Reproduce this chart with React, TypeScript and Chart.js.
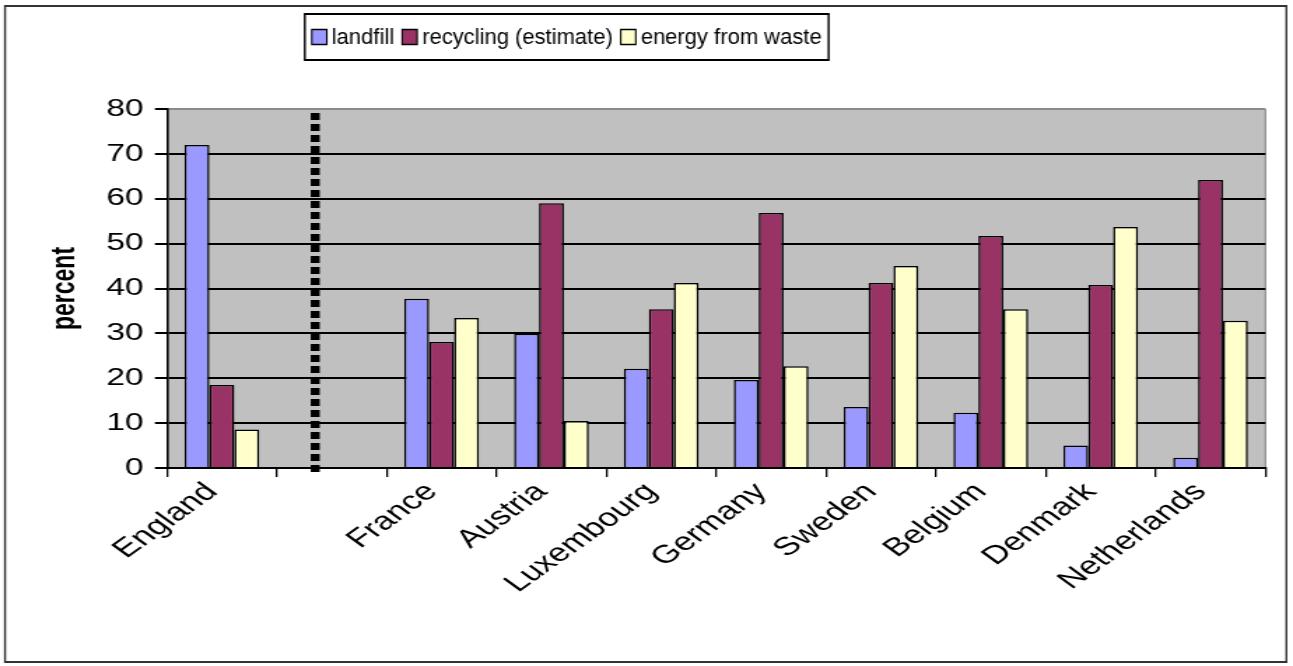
import React, { useEffect, useRef } from "react";
import { Chart, registerables } from "chart.js";

Chart.register(...registerables);

const categories = ["England", "", "France", "Austria", "Luxembourg", "Germany", "Sweden", "Belgium", "Denmark", "Netherlands"];
const landfill = [72, null, 37.7, 29.9, 22.1, 19.6, 13.6, 12.3, 5.0, 2.3];
const recycling = [18.5, null, 28.1, 59.0, 35.4, 56.8, 41.2, 51.7, 40.8, 64.2];
const energy = [8.6, null, 33.4, 10.5, 41.2, 22.7, 45.0, 35.4, 53.7, 32.8];
const seriesNames = ["landfill", "recycling (estimate)", "energy from waste"];
const seriesColors = ["#9999ff", "#993366", "#ffffcc"];
const separatorAt = 0.85; // category index position of the dotted divider

const FONT = '"Liberation Sans", Arial, sans-serif';
const DISPLAY_W = 1293;
const DISPLAY_H = 666;
const STRETCH = 1.4; // the reference is horizontally stretched
const CANVAS_W = Math.round(DISPLAY_W / STRETCH);

const decorPlugin = {
  id: "decor",
  beforeDraw(chart: any) {
    const { ctx, chartArea, width, height } = chart;
    ctx.save();
    ctx.fillStyle = "#ffffff";
    ctx.fillRect(0, 0, width, height);
    ctx.fillStyle = "#c0c0c0";
    ctx.fillRect(chartArea.left, chartArea.top, chartArea.right - chartArea.left, chartArea.bottom - chartArea.top);
    ctx.strokeStyle = "#8a8a8a";
    ctx.lineWidth = 1.2;
    ctx.beginPath();
    ctx.moveTo(chartArea.right, chartArea.top);
    ctx.lineTo(chartArea.right, chartArea.bottom);
    ctx.stroke();
    ctx.restore();
  },
  afterDraw(chart: any) {
    const { ctx, chartArea, height } = chart;
    const xs = chart.scales.x;
    ctx.save();
    // dotted separator
    const sx = xs.getPixelForValue(separatorAt);
    ctx.strokeStyle = "#000";
    ctx.lineWidth = 6.4;
    ctx.setLineDash([7, 4]);
    ctx.beginPath();
    ctx.moveTo(sx, chartArea.top + 4);
    ctx.lineTo(sx, chartArea.bottom + 4);
    ctx.stroke();
    ctx.setLineDash([]);
    ctx.restore();

    // legend and frame drawn in display (unstretched) coordinates
    ctx.save();
    ctx.scale(1 / STRETCH, 1);
    const fontSize = 22;
    ctx.font = `${fontSize}px ${FONT}`;
    const box = 15;
    const gapBoxText = 5;
    const gapItems = 8;
    const padX = 7;
    const items = chart.data.datasets.map((d: any) => ({ label: d.label, color: d.backgroundColor }));
    let total = padX * 2;
    items.forEach((it: any, i: number) => {
      total += box + gapBoxText + ctx.measureText(it.label).width + (i < items.length - 1 ? gapItems : 0);
    });
    const cx = DISPLAY_W * 0.4385;
    const lx = cx - total / 2;
    const ly = 14;
    const lh = 46;
    ctx.strokeStyle = "#000";
    ctx.lineWidth = 2;
    ctx.strokeRect(lx, ly, total, lh);
    let x = lx + padX;
    const midY = ly + lh / 2;
    ctx.textBaseline = "middle";
    ctx.textAlign = "left";
    items.forEach((it: any) => {
      ctx.fillStyle = it.color;
      ctx.fillRect(x, midY - box / 2, box, box);
      ctx.lineWidth = 1.5;
      ctx.strokeStyle = "#000";
      ctx.strokeRect(x, midY - box / 2, box, box);
      x += box + gapBoxText;
      ctx.fillStyle = "#000";
      ctx.fillText(it.label, x, midY + 1);
      x += ctx.measureText(it.label).width + gapItems;
    });

    // outer frame
    ctx.strokeStyle = "#333";
    ctx.lineWidth = 2;
    ctx.strokeRect(5, 6, DISPLAY_W - 11, height - 10);
    ctx.restore();
  },
};

export default function App() {
  const ref = useRef<HTMLCanvasElement>(null);
  useEffect(() => {
    if (!ref.current) return;
    const datasets = [landfill, recycling, energy].map((data, i) => ({
      label: seriesNames[i],
      data,
      backgroundColor: seriesColors[i],
      borderColor: "#000",
      borderWidth: 1.5,
      categoryPercentage: 0.68,
      barPercentage: 1.0,
    }));
    const chart = new Chart(ref.current, {
      type: "bar",
      data: { labels: categories, datasets },
      plugins: [decorPlugin],
      options: {
        animation: false,
        responsive: false,
        devicePixelRatio: 1,
        layout: { padding: { top: 109, left: 28.6, right: 19.7, bottom: 0 } },
        plugins: { legend: { display: false }, tooltip: { enabled: false } },
        scales: {
          x: {
            afterFit: (s: any) => {
              s.height = 198;
            },
            grid: {
              display: true,
              drawOnChartArea: false,
              drawTicks: true,
              tickLength: 9,
              color: "#000",
              lineWidth: 1.3,
              offset: true,
            },
            border: { display: true, color: "#000", width: 2 },
            ticks: {
              autoSkip: false,
              maxRotation: 45,
              minRotation: 45,
              padding: 0,
              labelOffset: -7,
              color: "#000",
              font: { family: FONT, size: 25.5 },
            },
          },
          y: {
            min: 0,
            max: 80,
            afterFit: (s: any) => {
              s.width = 90.7;
            },
            ticks: {
              stepSize: 10,
              padding: 8,
              color: "#000",
              font: { family: FONT, size: 24 },
            },
            grid: {
              color: (c: any) => (c.tick && c.tick.value === 80 ? "#8a8a8a" : "#000"),
              tickColor: "#000",
              lineWidth: 2,
              tickLength: 8.6,
            },
            border: { display: true, color: "#000", width: 1.6 },
            title: {
              display: true,
              text: "percent",
              color: "#000",
              padding: { top: 4, bottom: 4 },
              font: { family: FONT, size: 23, weight: "bold" },
            },
          },
        },
      },
    });
    return () => chart.destroy();
  }, []);
  return (
    <div style={{ position: "absolute", left: 0, top: 0, width: DISPLAY_W, height: DISPLAY_H }}>
      <canvas
        ref={ref}
        width={CANVAS_W}
        height={DISPLAY_H}
        style={{ display: "block", width: DISPLAY_W, height: DISPLAY_H }}
      />
    </div>
  );
}
